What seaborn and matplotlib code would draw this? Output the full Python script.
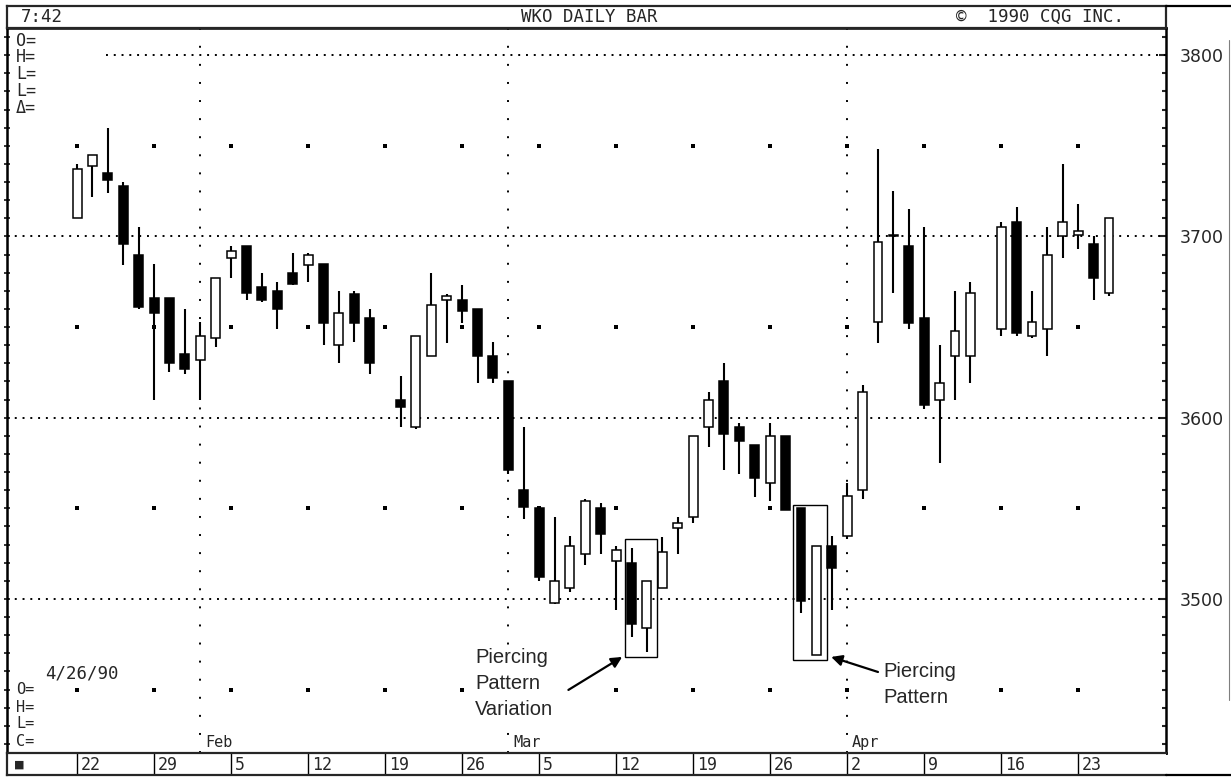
import matplotlib
matplotlib.use("Agg")
import matplotlib.pyplot as plt
from matplotlib.patches import Rectangle
from matplotlib.lines import Line2D
from matplotlib.ticker import FixedLocator, MultipleLocator
import seaborn as sns
import pandas as pd
import numpy as np

# WKO daily bars, 22 Jan - 25 Apr 1990 (no trading 19 Feb and 13 Apr)
dates = ["1990-01-22", "1990-01-23", "1990-01-24", "1990-01-25", "1990-01-26",
         "1990-01-29", "1990-01-30", "1990-01-31", "1990-02-01", "1990-02-02",
         "1990-02-05", "1990-02-06", "1990-02-07", "1990-02-08", "1990-02-09",
         "1990-02-12", "1990-02-13", "1990-02-14", "1990-02-15", "1990-02-16",
         "1990-02-20", "1990-02-21", "1990-02-22", "1990-02-23",
         "1990-02-26", "1990-02-27", "1990-02-28", "1990-03-01", "1990-03-02",
         "1990-03-05", "1990-03-06", "1990-03-07", "1990-03-08", "1990-03-09",
         "1990-03-12", "1990-03-13", "1990-03-14", "1990-03-15", "1990-03-16",
         "1990-03-19", "1990-03-20", "1990-03-21", "1990-03-22", "1990-03-23",
         "1990-03-26", "1990-03-27", "1990-03-28", "1990-03-29", "1990-03-30",
         "1990-04-02", "1990-04-03", "1990-04-04", "1990-04-05", "1990-04-06",
         "1990-04-09", "1990-04-10", "1990-04-11", "1990-04-12",
         "1990-04-16", "1990-04-17", "1990-04-18", "1990-04-19", "1990-04-20",
         "1990-04-23", "1990-04-24", "1990-04-25"]
opens = [3710, 3739, 3735, 3728, 3690, 3666, 3666, 3635, 3632, 3644,
         3688, 3695, 3672, 3670, 3680, 3684, 3685, 3640, 3668, 3655,
         3610, 3595, 3634, 3665, 3665, 3660, 3634, 3620, 3560,
         3550, 3498, 3506, 3525, 3550, 3521, 3520, 3484, 3506, 3539,
         3545, 3595, 3620, 3595, 3585, 3564, 3590, 3550, 3469, 3529,
         3535, 3560, 3653, 3700.5, 3695, 3655, 3610, 3634, 3634,
         3649, 3708, 3645, 3649, 3700, 3701, 3696, 3669]
highs = [3740, 3745, 3760, 3730, 3705, 3685, 3666, 3660, 3653, 3677,
         3695, 3695, 3680, 3675, 3691, 3691, 3685, 3670, 3670, 3660,
         3623, 3645, 3680, 3668, 3673, 3660, 3642, 3620, 3595,
         3550, 3545, 3535, 3555, 3553, 3529, 3528, 3510, 3534, 3545,
         3590, 3614, 3630, 3597, 3585, 3597, 3590, 3550, 3529, 3535,
         3564, 3618, 3748, 3725, 3715, 3705, 3640, 3670, 3675,
         3708, 3716, 3670, 3705, 3740, 3718, 3700, 3710]
lows = [3710, 3722, 3724, 3684, 3660, 3610, 3625, 3624, 3610, 3639,
        3677, 3665, 3664, 3649, 3673, 3675, 3640, 3630, 3642, 3624,
        3595, 3594, 3634, 3641, 3652, 3619, 3619, 3569, 3544,
        3510, 3497, 3504, 3519, 3525, 3494, 3479, 3471, 3506, 3525,
        3542, 3584, 3571, 3569, 3556, 3554, 3549, 3492, 3469, 3494,
        3533, 3555, 3641, 3669, 3649, 3605, 3575, 3610, 3619,
        3645, 3645, 3644, 3634, 3688, 3693, 3665, 3667]
closes = [3737, 3745, 3731, 3696, 3661, 3658, 3630, 3627, 3645, 3677,
          3692, 3669, 3665, 3660, 3674, 3690, 3652, 3658, 3652, 3630,
          3606, 3645, 3662, 3667, 3659, 3634, 3622, 3571, 3551,
          3512, 3510, 3529, 3554, 3536, 3527, 3486, 3510, 3526, 3542,
          3590, 3610, 3591, 3587, 3567, 3590, 3549, 3499, 3529, 3517,
          3557, 3614, 3697, 3700, 3652, 3607, 3619, 3648, 3669,
          3705, 3647, 3653, 3690, 3708, 3703, 3677, 3710]

price_levels = [3500, 3600, 3700, 3800]
half_levels = [3450, 3550, 3650, 3750]
week_starts = ["1990-01-22", "1990-01-29", "1990-02-05", "1990-02-12", "1990-02-19",
               "1990-02-26", "1990-03-05", "1990-03-12", "1990-03-19", "1990-03-26",
               "1990-04-02", "1990-04-09", "1990-04-16", "1990-04-23"]
week_labels = ["22", "29", "5", "12", "19", "26", "5", "12", "19", "26", "2", "9", "16", "23"]
month_starts = ["1990-02-01", "1990-03-01", "1990-04-02"]
month_labels = ["Feb", "Mar", "Apr"]

W, H = 1231, 777
MONO = "DejaVu Sans Mono"

sns.set_style("white")
plt.rcParams["font.family"] = ["DejaVu Sans"]

first = "1990-01-22"
slots = np.busday_count(first, dates)
week_slots = np.busday_count(first, week_starts)
month_slots = np.busday_count(first, month_starts)

df = pd.DataFrame({"slot": slots, "open": opens, "high": highs, "low": lows, "close": closes})
df["bottom"] = df[["open", "close"]].min(axis=1)
df["body"] = (df["close"] - df["open"]).abs().clip(lower=0.8)
df["face"] = np.where(df["close"] > df["open"], "white", "black")


def fx(px):
    return px / W


def fy(py):
    return 1 - py / H


fig = plt.figure(figsize=(W / 100, H / 100), dpi=100)
fig.patch.set_facecolor("white")

x_left, x_right = 7, 1166
y_top, y_bot = 28, 753
ax = fig.add_axes([fx(x_left), fy(y_bot), fx(x_right - x_left), (y_bot - y_top) / H])
ax.set_xlim(-4.55, 70.7)
ax.set_ylim(3415, 3815)

# dotted price lines and month lines
for lvl in price_levels:
    start = 1.9 if lvl == 3800 else -4.55
    ax.hlines(lvl, start, 70.7, colors="black", linewidth=1.4, linestyles=(0, (1, 3)), zorder=1)
ax.vlines(month_slots, 3415, 3815, colors="black", linewidth=1.4, linestyles=(0, (1, 8.3)), zorder=1)

# isolated grid dots at week starts
grid = pd.DataFrame([(s, lvl) for s in week_slots for lvl in half_levels], columns=["slot", "price"])
sns.scatterplot(data=grid, x="slot", y="price", marker="s", s=6, color="black",
                linewidth=0, ax=ax, zorder=1, legend=False)

# candlesticks
ax.vlines(df["slot"], df["low"], df["high"], colors="black", linewidth=1.5, zorder=2)
ax.bar(df["slot"], df["body"], bottom=df["bottom"], width=0.58, color=df["face"],
       edgecolor="black", linewidth=1.1, zorder=3)

# pattern boxes and notes
ax.add_patch(Rectangle((35.55, 3468), 2.1, 65, fill=False, lw=1.0, ec="black", zorder=4))
ax.add_patch(Rectangle((46.5, 3466.5), 2.2, 85.5, fill=False, lw=1.0, ec="black", zorder=4))
arrow = dict(arrowstyle="-|>", color="black", lw=1.6, mutation_scale=16, shrinkA=0, shrinkB=0)
ax.annotate("", xy=(35.39, 3468), xytext=(31.9, 3449.8), arrowprops=arrow)
ax.annotate("", xy=(48.96, 3468), xytext=(52.0, 3459.7), arrowprops=arrow)
note_box = dict(fc="white", ec="none", pad=1)
ax.text(25.84, 3453.3, "Piercing\nPattern\nVariation", fontsize=14.5, family="Liberation Sans",
        ha="left", va="center", linespacing=1.45, bbox=note_box, zorder=5)
ax.text(52.35, 3452.6, "Piercing\nPattern", fontsize=14.5, family="Liberation Sans",
        ha="left", va="center", linespacing=1.45, bbox=note_box, zorder=5)

for s, lab in zip(month_slots, month_labels):
    ax.text(s + 0.3, 3421, lab, fontsize=11, family=MONO, ha="left", va="center")

ax.set_xlabel("")
ax.set_ylabel("")
ax.set_xticks([])
ax.yaxis.tick_right()
ax.yaxis.set_major_locator(FixedLocator(price_levels))
ax.yaxis.set_minor_locator(MultipleLocator(10))
ax.tick_params(axis="y", which="major", direction="in", length=5, width=1.5, pad=10, labelsize=12.5)
ax.tick_params(axis="y", which="minor", direction="in", length=3, width=1.5)
left_axis = ax.secondary_yaxis("left")
left_axis.yaxis.set_major_locator(MultipleLocator(10))
left_axis.tick_params(axis="y", which="major", direction="inout", length=5, width=1.3, labelleft=False)
for sp in ax.spines.values():
    sp.set_linewidth(1.8)
    sp.set_color("black")

# header strip
hax = fig.add_axes([fx(x_left), fy(y_top), fx(x_right - x_left), (y_top - 6) / H])
hax.set_xticks([])
hax.set_yticks([])
for sp in hax.spines.values():
    sp.set_linewidth(1.6)
hax.text((21 - x_left) / (x_right - x_left), 0.5, "7:42", family=MONO, fontsize=12.5, va="center")
hax.text((589 - x_left) / (x_right - x_left), 0.5, "WKO DAILY BAR", family=MONO, fontsize=12.5,
         ha="center", va="center")
hax.text((956 - x_left) / (x_right - x_left), 0.5, "\u00a9  1990 CQG INC.", family=MONO, fontsize=12.5,
         ha="left", va="center")
fig.add_artist(Line2D([fx(x_right), 1], [fy(6), fy(6)], color="black", lw=1.6))

# date strip
bax = fig.add_axes([fx(x_left), fy(775), fx(x_right - x_left), (775 - y_bot) / H], sharex=ax)
bax.set_ylim(0, 1)
bax.set_yticks([])
bax.tick_params(axis="x", bottom=False, labelbottom=False)
bax.spines["right"].set_visible(False)
for sp in bax.spines.values():
    sp.set_linewidth(1.6)
bax.vlines(week_slots, 0, 1, colors="black", linewidth=1.0)
for s, lab in zip(week_slots, week_labels):
    bax.text(s + 0.25, 0.45, lab, family=MONO, fontsize=12, ha="left", va="center")
bax.text(0.006, 0.45, "\u25a0", transform=bax.transAxes, family="DejaVu Sans", fontsize=8, va="center")
fig.add_artist(Line2D([fx(x_right), 1], [fy(775), fy(775)], color="black", lw=1.6))
fig.add_artist(Line2D([fx(1229), fx(1229)], [fy(40), fy(700)], color="black", lw=0.8, alpha=0.5))

# readout labels
for txt, py in zip(["O=", "H=", "L=", "L=", "\u0394="], [41, 57, 74, 91, 108]):
    fig.text(fx(16), fy(py), txt, family=MONO, fontsize=12, va="center")
fig.text(fx(45), fy(673), "4/26/90", family=MONO, fontsize=12.5, va="center")
for txt, py in zip(["O=", "H=", "L=", "C="], [690, 707, 724, 741]):
    fig.text(fx(16), fy(py), txt, family=MONO, fontsize=11, va="center")

fig.savefig("out.png", dpi=100)
